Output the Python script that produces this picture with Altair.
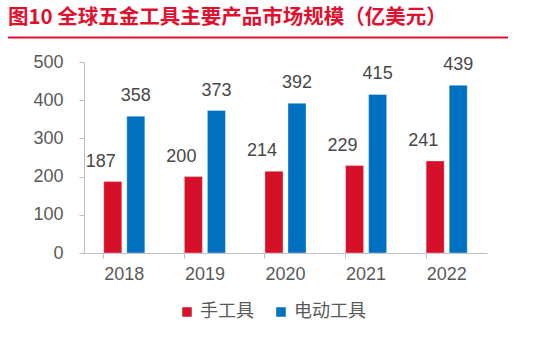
import altair as alt
import pandas as pd

years = ["2018", "2019", "2020", "2021", "2022"]
hand_tools = [187, 200, 214, 229, 241]
power_tools = [358, 373, 392, 415, 439]
series = ["手工具", "电动工具"]
colors = ["#D7102A", "#0070C0"]
title_text = "图10   全球五金工具主要产品市场规模（亿美元）"

rows = []
for y, h, p in zip(years, hand_tools, power_tools):
    rows.append({"year": y, "series": series[0], "value": h})
    rows.append({"year": y, "series": series[1], "value": p})
df = pd.DataFrame(rows)

NUM_FONT = "Liberation Sans"
CJK_FONT = "Noto Sans CJK SC"
GREY = "#595959"
LABEL_GREY = "#474747"

x_scale = alt.Scale(domain=years, paddingInner=0.49, paddingOuter=0.245)
y_scale = alt.Scale(domain=[0, 500])

x_enc = alt.X("year:N", title=None, sort=years, scale=x_scale,
              axis=alt.Axis(labelAngle=0, labelFont=NUM_FONT, labelFontSize=18,
                            labelColor=GREY, domainColor="#BFBFBF", tickColor="#BFBFBF",
                            tickSize=5, labelPadding=7, bandPosition=0, ticks=True,
                            domainWidth=1, tickWidth=1, labelOverlap=False))
y_enc = alt.Y("value:Q", title=None, scale=y_scale,
              axis=alt.Axis(values=[0, 100, 200, 300, 400, 500], grid=False,
                            labelFont=NUM_FONT, labelFontSize=18, labelColor=GREY,
                            domainColor="#BFBFBF", tickColor="#BFBFBF", tickSize=5,
                            labelPadding=16, domainWidth=1, tickWidth=1,
                            labelOverlap=False, labelFlush=False))
xoff = alt.XOffset("series:N", sort=series,
                   scale=alt.Scale(domain=series, paddingInner=0.217, paddingOuter=0))
color_enc = alt.Color("series:N", sort=series,
                      scale=alt.Scale(domain=series, range=colors),
                      legend=alt.Legend(title=None, orient="none", direction="horizontal",
                                        legendX=94, legendY=241,
                                        symbolType="square", symbolSize=90,
                                        symbolStrokeWidth=0,
                                        labelFont=CJK_FONT, labelFontSize=18,
                                        labelColor=GREY, labelOffset=4,
                                        columnPadding=18))

base = alt.Chart(df)

bars = base.mark_bar(stroke="white", strokeOpacity=0.35, strokeWidth=1).encode(
    x=x_enc, y=y_enc, xOffset=xoff, color=color_enc)

labels_hand = base.transform_filter(alt.datum.series == series[0]).mark_text(
    font=NUM_FONT, fontSize=18, color=LABEL_GREY, baseline="alphabetic", dy=-15, dx=-12
).encode(x=x_enc, y=y_enc, xOffset=xoff, text="value:Q")

labels_power = base.transform_filter(alt.datum.series == series[1]).mark_text(
    font=NUM_FONT, fontSize=18, color=LABEL_GREY, baseline="alphabetic", dy=-15
).encode(x=x_enc, y=y_enc, xOffset=xoff, text="value:Q")

title = alt.Chart(pd.DataFrame({"t": [title_text]})).mark_text(
    font=CJK_FONT, fontSize=20.5, fontWeight="bold", color="#E0102F",
    align="left", baseline="middle"
).encode(x=alt.value(-76), y=alt.value(-44), text="t:N")

rule = alt.Chart(pd.DataFrame({"a": [0]})).mark_rule(
    color="#E0102F", strokeWidth=2
).encode(x=alt.value(-76), x2=alt.value(424), y=alt.value(-24.5))

chart = alt.layer(bars, labels_hand, labels_power, title, rule).properties(
    width=403, height=191,
    background="white",
    autosize=alt.AutoSizeParams(type="none"),
    padding={"left": 84, "top": 62, "right": 49, "bottom": 88},
).configure_view(strokeWidth=0)

chart.save("out.html", embed_options={"renderer": "svg", "actions": False})
